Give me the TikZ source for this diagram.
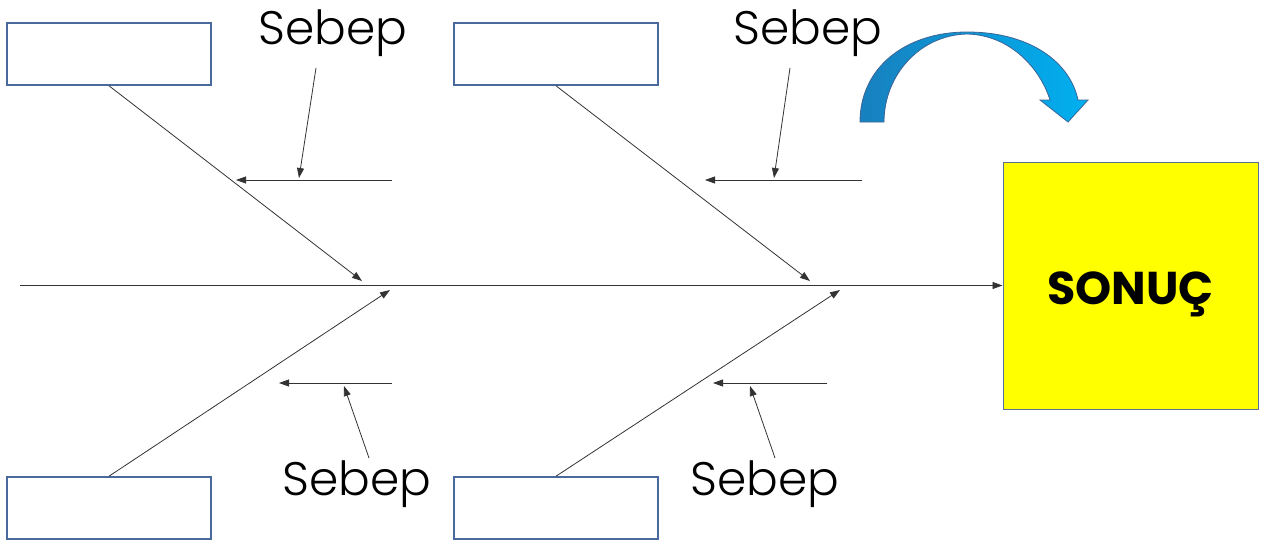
\documentclass[tikz,border=0pt]{standalone}
\usepackage{fontspec}
\setmainfont{Poppins}
\newfontfamily\lightfont{Poppins Light}
\usetikzlibrary{arrows.meta}
\definecolor{boxline}{RGB}{74,106,158}
\definecolor{arrowdark}{RGB}{24,128,190}
\definecolor{arrowlight}{RGB}{0,176,240}
\definecolor{arrowedge}{RGB}{60,100,150}
\definecolor{resyellow}{RGB}{255,255,0}
\tikzset{
  causebox/.style={draw=boxline,line width=1.6pt,fill=white,minimum width=204pt,minimum height=62pt,inner sep=0pt},
  resultbox/.style={draw=boxline!70!gray,line width=1pt,fill=resyellow,minimum width=255pt,minimum height=247pt,inner sep=0pt},
  bone/.style={draw=black!80,line width=0.8pt,-{Triangle[length=10pt,width=7pt]}},
  sebep/.style={font=\lightfont\fontsize{47}{52}\selectfont,anchor=base,inner sep=0pt},
}
\begin{document}
\begin{tikzpicture}[x=1pt,y=-1pt]
\useasboundingbox (0,0) rectangle (1264,543);
% boxes
\node[causebox] (b1) at (109,54) {};
\node[causebox] (b2) at (556,54) {};
\node[causebox] (b3) at (109,508) {};
\node[causebox] (b4) at (556,508) {};
\node[resultbox] (res) at (1130.5,285.5) {};
\node[font=\fontsize{46}{52}\selectfont\bfseries,anchor=base] (restext) at (1130.5,304) {SONUÇ};
% spine
\coordinate (spinestart) at (20,285.5);
\draw[bone] (spinestart) -- (res.west);
% bone heads
\coordinate (h1) at (362,281);
\coordinate (h2) at (810,281);
\coordinate (h3) at (390,290);
\coordinate (h4) at (840,290);
\draw[bone] (b1.south) -- (h1);
\draw[bone] (b2.south) -- (h2);
\draw[bone] (b3.north) -- (h3);
\draw[bone] (b4.north) -- (h4);
% sub-causes
\coordinate (s1a) at (392,180); \coordinate (s1b) at (236,180);
\coordinate (s2a) at (862,180); \coordinate (s2b) at (705,180);
\coordinate (s3a) at (392,383); \coordinate (s3b) at (279,383);
\coordinate (s4a) at (827,383); \coordinate (s4b) at (713,383);
\draw[bone] (s1a) -- (s1b);
\draw[bone] (s2a) -- (s2b);
\draw[bone] (s3a) -- (s3b);
\draw[bone] (s4a) -- (s4b);
% labels
\node[sebep] (t1) at (333,45) {Sebep};
\node[sebep] (t2) at (808,45) {Sebep};
\node[sebep] (t3) at (357,495) {Sebep};
\node[sebep] (t4) at (765,495) {Sebep};
\coordinate (p1a) at (316,68); \coordinate (p1b) at (299,178);
\coordinate (p2a) at (790,68); \coordinate (p2b) at (774,178);
\coordinate (p3a) at (369,458); \coordinate (p3b) at (344,386);
\coordinate (p4a) at (775,458); \coordinate (p4b) at (750,386);
\draw[bone] (p1a) -- (p1b);
\draw[bone] (p2a) -- (p2b);
\draw[bone] (p3a) -- (p3b);
\draw[bone] (p4a) -- (p4b);
% curved arrow
\path[draw=arrowedge,line width=0.8pt,left color=arrowdark,right color=arrowlight]
  (860,122) .. controls (860,68) and (905,32) .. (967,32)
  .. controls (1030,32) and (1070,62) .. (1078,100)
  -- (1088,100) -- (1068,122) -- (1040,100) -- (1050,100)
  .. controls (1040,68) and (1010,35) .. (967,34)
  .. controls (920,35) and (884,75) .. (884,122) -- cycle;
\end{tikzpicture}
\end{document}
